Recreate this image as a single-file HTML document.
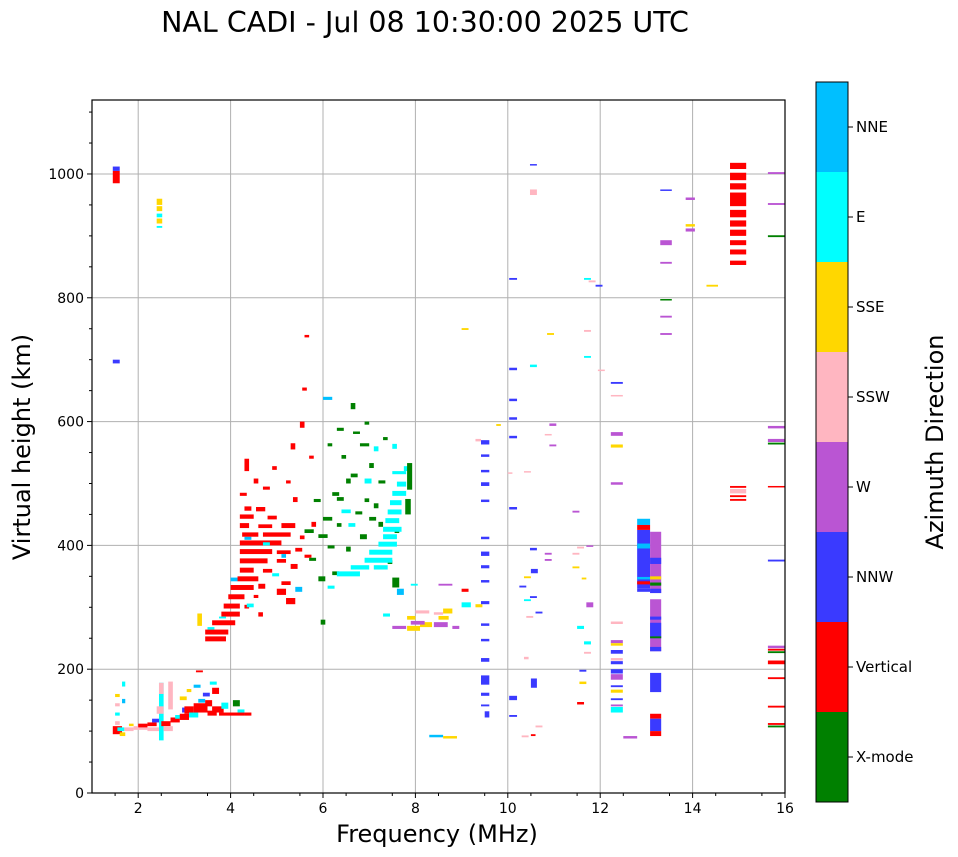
<!DOCTYPE html>
<html><head><meta charset="utf-8"><style>
html,body{margin:0;padding:0;background:#fff}
svg{display:block;font-family:"DejaVu Sans","Liberation Sans",sans-serif}
</style></head><body>
<svg id="chart" width="958" height="857" viewBox="0 0 958 857">
<text x="425" y="32" font-size="28.5" text-anchor="middle">NAL CADI - Jul 08 10:30:00 2025 UTC</text>
<g id="grid"></g>
<g id="marks"></g>
<rect x="92" y="100" width="693" height="693" fill="none" stroke="#000" stroke-width="1.2"/>
<g id="axes"></g>
<text x="437" y="842" font-size="24" text-anchor="middle">Frequency (MHz)</text>
<text transform="translate(30,447) rotate(-90)" font-size="24" text-anchor="middle">Virtual height (km)</text>
<g id="cbar"></g>
<text transform="translate(943,442) rotate(-90)" font-size="24" text-anchor="middle">Azimuth Direction</text>
</svg>
<script>
const categories = ["X-mode","Vertical","NNW","W","SSW","SSE","E","NNE"];
const catColors = ["#008000","#ff0000","#3a3aff","#ba55d3","#ffb6c1","#ffd700","#00ffff","#00bfff"];
const xTicks = [2,4,6,8,10,12,14,16];
const yTicks = [0,200,400,600,800,1000];
// echoes: [freqStart, freqEnd, heightLow, heightHigh, categoryIndex]
const echoes = [
[1.45,1.6,985,1005,1],[1.45,1.6,1005,1012,2],[1.45,1.6,694,700,2],
[2.4,2.52,950,960,5],[2.4,2.52,940,948,5],[2.4,2.52,930,936,6],[2.4,2.52,920,928,5],[2.4,2.52,913,916,6],
// low cluster
[1.45,1.65,95,108,1],[1.55,1.7,100,106,6],[1.6,1.72,92,98,5],[1.5,1.6,110,116,4],[1.5,1.6,125,130,6],[1.5,1.6,140,145,4],[1.5,1.6,155,160,5],[1.65,1.72,172,180,6],[1.65,1.72,145,152,7],
[1.7,1.9,100,106,4],[1.8,1.9,108,112,5],[1.9,2.2,102,108,4],[2.0,2.2,106,112,1],[2.2,2.45,100,106,4],[2.2,2.4,108,114,1],[2.3,2.45,114,120,2],
[2.45,2.55,85,178,6],[2.4,2.55,128,140,4],[2.45,2.55,160,178,4],[2.5,2.7,108,116,1],[2.55,2.75,100,108,4],[2.65,2.75,135,180,4],
[2.7,2.9,114,122,1],[2.8,2.95,120,126,6],[2.9,3.1,118,128,1],[2.95,3.1,130,138,2],[3.0,3.2,128,140,1],[3.1,3.3,122,130,6],
[3.2,3.5,130,145,1],[3.3,3.45,146,152,7],[3.45,3.6,140,150,1],[3.5,3.7,125,133,1],[3.6,3.85,130,140,1],[3.75,4.3,125,130,1],
[3.8,3.95,136,146,6],[3.6,3.75,160,170,1],[3.4,3.55,156,162,2],[3.55,3.7,175,180,6],[3.25,3.4,195,198,1],[3.2,3.35,170,175,7],
[4.05,4.2,140,150,0],[4.15,4.3,130,135,6],[4.3,4.45,125,130,1],[2.9,3.05,150,156,5],[3.05,3.15,163,168,5],
// main red band rows
[3.45,3.9,245,253,1],[3.45,3.95,256,264,1],[3.5,3.65,264,268,6],[3.6,4.1,271,279,1],[3.28,3.38,270,290,5],[3.8,4.2,285,293,1],[3.75,3.9,282,285,6],
[3.85,4.2,298,306,1],[4.3,4.4,298,304,1],[3.95,4.3,313,321,1],[4.5,4.6,315,320,1],[4.0,4.5,328,336,1],[4.6,4.75,330,338,1],
[4.0,4.15,342,348,7],[4.15,4.6,342,350,1],[4.2,4.5,356,364,1],[4.7,4.9,356,362,1],[4.2,4.8,371,379,1],[5.0,5.2,372,378,1],
[4.2,4.9,386,394,1],[5.0,5.3,386,392,1],[4.2,5.1,400,408,1],[4.3,4.45,409,414,7],[4.25,4.6,414,421,1],[4.7,5.3,414,421,1],
[4.2,4.4,428,436,1],[4.6,4.9,428,434,1],[5.1,5.4,428,436,1],[4.2,4.5,443,450,1],[4.8,5.0,442,448,1],[4.3,4.45,456,463,1],[4.55,4.75,455,462,1],
[5.0,5.2,320,330,1],[5.2,5.4,305,315,1],[5.1,5.3,336,342,1],[5.4,5.55,325,333,7],[5.3,5.45,362,370,1],[4.6,4.7,285,292,1],[4.35,4.5,300,306,6],
[5.1,5.2,380,386,7],[4.7,4.85,400,405,6],[4.9,5.05,350,355,6],[5.4,5.55,390,396,1],[5.5,5.6,410,416,1],[5.6,5.75,380,385,1],
[4.3,4.4,520,540,1],[4.5,4.6,500,508,1],[4.9,5.0,522,528,1],[5.3,5.4,555,565,1],[5.5,5.6,590,600,1],[5.6,5.7,736,740,1],[5.55,5.65,650,655,1],
[5.7,5.8,540,545,1],[5.35,5.45,470,478,1],[5.75,5.85,430,438,1],[4.2,4.35,480,485,1],[4.7,4.85,490,495,1],[5.2,5.3,500,505,1],
// green / cyan
[5.6,5.8,420,426,0],[5.9,6.1,412,418,0],[6.0,6.2,440,446,0],[6.3,6.45,472,478,0],[6.5,6.6,500,508,0],[6.3,6.45,585,590,0],[6.6,6.7,620,630,0],
[6.0,6.2,635,640,7],[6.65,6.8,580,584,0],[6.9,7.0,595,600,0],[7.0,7.1,525,533,0],[6.8,7.0,560,565,0],[7.1,7.2,460,468,0],[6.2,6.35,352,358,0],
[5.9,6.05,342,350,0],[6.5,6.6,390,398,0],[6.8,6.95,410,418,0],[7.2,7.3,430,438,0],[7.55,7.65,420,428,0],[7.5,7.65,332,348,0],[5.95,6.05,272,280,0],
[5.7,5.85,375,380,0],[6.1,6.25,395,400,0],[6.3,6.4,430,436,0],[6.7,6.85,450,455,0],[6.9,7.0,470,476,0],[7.2,7.35,500,505,0],[6.4,6.5,540,546,0],
[6.6,6.75,510,516,0],[6.1,6.2,560,565,0],[7.3,7.4,570,575,0],[7.0,7.15,440,446,0],[6.2,6.35,480,486,0],[5.8,5.95,470,475,0],[7.4,7.5,370,376,0],
[6.9,7.05,500,508,6],[7.1,7.2,552,560,6],[7.5,7.6,556,564,6],[7.75,7.9,520,528,6],[6.4,6.6,452,458,6],[6.1,6.25,330,335,6],[6.55,6.7,430,436,6],
[6.3,6.8,350,358,6],[6.6,7.0,361,368,6],[7.1,7.4,361,368,6],[6.9,7.5,372,380,6],[7.0,7.5,385,393,6],[7.2,7.6,398,406,6],[7.3,7.6,410,418,6],
[7.3,7.7,422,430,6],[7.35,7.65,436,444,6],[7.4,7.7,450,458,6],[7.45,7.7,465,473,6],[7.5,7.8,480,488,6],[7.6,7.8,495,503,6],[7.5,7.8,515,520,6],
[7.82,7.93,490,533,0],[7.78,7.9,450,475,0],[7.6,7.75,320,330,7],[7.9,8.05,335,338,6],[7.3,7.45,285,290,6],
// 8-9 MHz cluster
[7.82,8.1,262,270,5],[8.1,8.36,268,276,5],[7.9,8.2,272,278,3],[7.82,8.0,280,286,5],[7.5,7.8,265,270,3],[8.4,8.7,268,276,3],[8.5,8.72,280,286,5],
[8.4,8.6,288,292,4],[8.6,8.8,290,298,5],[8.5,8.8,335,338,3],[9.0,9.15,325,330,1],[9.0,9.2,300,308,6],[9.3,9.45,300,305,5],[8.0,8.3,290,295,4],
[8.8,8.95,265,270,3],[8.3,8.6,90,94,7],[8.6,8.9,88,92,5],
// sparse right
[9.42,9.6,563,570,2],[9.3,9.42,568,572,4],[9.42,9.6,543,547,2],[9.42,9.6,518,522,2],[9.42,9.6,496,502,2],[9.42,9.6,470,474,2],[9.42,9.6,410,414,2],
[9.42,9.6,383,390,2],[9.42,9.6,363,368,2],[9.42,9.6,340,344,2],[9.42,9.6,305,310,2],[9.42,9.6,270,274,2],[9.42,9.6,245,249,2],[9.42,9.6,212,218,2],
[9.42,9.6,175,190,2],[9.42,9.6,157,162,2],[9.42,9.6,140,143,2],[9.5,9.6,122,132,2],[9.0,9.15,748,751,5],[9.75,9.85,593,596,5],
[10.03,10.2,829,832,2],[10.03,10.2,683,687,2],[10.03,10.2,633,637,2],[10.03,10.2,603,607,2],[10.03,10.2,573,577,2],[10.03,10.2,458,462,2],
[10.03,10.2,150,157,2],[10.03,10.2,123,126,2],[10.0,10.1,516,518,4],
[10.48,10.63,1014,1016,2],[10.48,10.63,966,975,4],[10.48,10.63,688,692,6],[10.35,10.5,518,520,4],[10.48,10.63,392,396,2],[10.5,10.65,355,362,2],
[10.35,10.5,347,350,5],[10.48,10.63,315,318,2],[10.5,10.63,170,185,2],[10.3,10.45,90,93,4],[10.5,10.6,92,95,1],[10.6,10.75,106,109,4],
[10.25,10.4,332,335,2],[10.35,10.5,310,313,6],[10.4,10.55,283,286,4],[10.35,10.45,216,220,4],[10.6,10.75,290,293,2],
[10.85,11.0,740,743,5],[10.9,11.05,593,597,3],[10.8,10.95,578,580,4],[10.9,11.05,560,563,3],[10.8,10.95,385,388,3],[10.8,10.95,375,378,3],
[11.4,11.55,453,456,3],[11.5,11.65,395,398,4],[11.7,11.85,398,400,3],[11.4,11.55,385,388,4],[11.4,11.55,363,366,5],[11.6,11.7,345,348,5],
[11.7,11.85,300,308,3],[11.5,11.65,265,270,6],[11.65,11.8,240,245,6],[11.65,11.8,225,228,4],[11.55,11.7,196,199,2],[11.55,11.7,176,180,5],[11.5,11.65,143,147,1],
[11.65,11.8,829,832,6],[11.75,11.9,825,828,4],[11.9,12.05,818,821,2],[11.65,11.8,745,748,4],[11.65,11.8,703,706,6],[11.95,12.1,682,684,4],
[12.23,12.49,661,664,2],[12.23,12.49,641,643,4],[12.23,12.49,577,583,3],[12.23,12.49,558,563,5],[12.23,12.49,498,502,3],[12.23,12.49,273,277,4],
[12.23,12.49,242,247,3],[12.23,12.49,238,242,5],[12.23,12.49,225,231,2],[12.23,12.49,214,218,4],[12.23,12.49,208,213,2],[12.23,12.49,193,200,2],
[12.23,12.49,183,192,3],[12.23,12.49,171,174,2],[12.23,12.49,162,167,5],[12.23,12.49,150,153,2],[12.23,12.49,140,143,3],[12.23,12.49,130,139,6],
[12.5,12.8,88,92,3],
[12.8,13.08,330,425,2],[12.8,13.08,433,443,7],[12.8,13.08,425,433,1],[12.8,13.08,395,403,7],[12.8,13.08,345,349,7],[12.8,13.08,337,342,1],[12.8,13.08,325,330,2],
[13.08,13.32,323,422,3],[13.08,13.32,370,380,2],[13.08,13.32,345,350,5],[13.08,13.32,335,340,0],[13.08,13.32,323,330,2],
[13.08,13.32,229,313,3],[13.08,13.32,280,285,2],[13.08,13.32,250,275,2],[13.08,13.32,250,253,0],[13.08,13.32,229,236,2],
[13.08,13.32,163,194,2],[13.08,13.32,120,128,1],[13.08,13.32,100,120,2],[13.08,13.32,92,100,1],
[13.3,13.55,885,893,3],[13.3,13.55,973,975,2],[13.3,13.55,855,858,3],[13.3,13.55,797,798,0],[13.3,13.55,768,771,3],[13.3,13.55,740,743,3],
[13.85,14.05,958,962,3],[13.85,14.05,915,919,5],[13.85,14.05,907,912,3],[14.3,14.55,818,821,5],
[14.81,15.16,1008,1018,1],[14.81,15.16,990,1002,1],[14.81,15.16,975,985,1],[14.81,15.16,948,970,1],[14.81,15.16,930,942,1],[14.81,15.16,915,925,1],
[14.81,15.16,900,910,1],[14.81,15.16,885,893,1],[14.81,15.16,870,878,1],[14.81,15.16,853,860,1],
[14.81,15.16,493,496,1],[14.81,15.16,484,491,4],[14.81,15.16,478,481,1],[14.81,15.16,472,475,1],
[15.63,16.0,1000,1003,3],[15.63,16.0,950,953,3],[15.63,16.0,898,901,0],[15.63,16.0,589,593,3],[15.63,16.0,567,572,3],[15.63,16.0,563,566,0],
[15.63,16.0,494,496,1],[15.63,16.0,374,377,2],[15.63,16.0,234,238,3],[15.63,16.0,230,233,1],[15.63,16.0,226,229,0],[15.63,16.0,208,214,1],
[15.63,16.0,184,187,1],[15.63,16.0,138,141,1],[15.63,16.0,110,113,1],[15.63,16.0,106,109,0]
];

const NS="http://www.w3.org/2000/svg";
const X0=92,X1=785,Y0=793,Y1=100,FMIN=1,FMAX=16,HMIN=0,HMAX=1119.5;
const xs=f=>X0+(f-FMIN)/(FMAX-FMIN)*(X1-X0);
const ys=h=>Y0-(h-HMIN)/(HMAX-HMIN)*(Y0-Y1);
function mk(tag,attrs,parent){const e=document.createElementNS(NS,tag);for(const k in attrs)e.setAttribute(k,attrs[k]);parent.appendChild(e);return e;}
const grid=document.getElementById('grid'),axes=document.getElementById('axes'),marks=document.getElementById('marks'),cbar=document.getElementById('cbar');
xTicks.forEach(t=>{
  const g=mk('line',{x1:xs(t),x2:xs(t),y1:Y1,y2:Y0,stroke:'#b0b0b0','stroke-width':1},grid);
  
  
  mk('line',{x1:xs(t),x2:xs(t),y1:Y0,y2:Y0+5,stroke:'#000'},axes);
  const tx=mk('text',{x:xs(t),y:Y0+20,'font-size':14,'text-anchor':'middle'},axes);tx.textContent=t;
  
  
});
for(let f=1.5;f<16;f+=1){mk('line',{x1:xs(f),x2:xs(f),y1:Y0,y2:Y0+3,stroke:'#000'},axes);}
yTicks.forEach(t=>{
  if(t>0){const g=mk('line',{x1:X0,x2:X1,y1:ys(t),y2:ys(t),stroke:'#b0b0b0','stroke-width':1},grid);
  
  }
  mk('line',{x1:X0-5,x2:X0,y1:ys(t),y2:ys(t),stroke:'#000'},axes);
  const tx=mk('text',{x:X0-8,y:ys(t)+5,'font-size':14,'text-anchor':'end'},axes);tx.textContent=t;
  
  
});
for(let h=50;h<1119;h+=50){if(h%200)mk('line',{x1:X0-3,x2:X0,y1:ys(h),y2:ys(h),stroke:'#000'},axes);}
echoes.forEach(e=>{
  const y1=ys(e[3]),y2=ys(e[2]);
  const r=mk('rect',{x:xs(e[0]),y:y1,width:Math.max(1,xs(e[1])-xs(e[0])),height:Math.max(1.5,y2-y1),fill:catColors[e[4]]},marks);
  
  
});
const CX=816,CW=32,CT=82,CB=802,seg=(CB-CT)/categories.length;
categories.forEach((c,i)=>{
  const y=CB-(i+1)*seg;
  const r=mk('rect',{x:CX,y:y,width:CW,height:seg,fill:catColors[i]},cbar);
  
  
  mk('line',{x1:CX+CW,x2:CX+CW+5,y1:y+seg/2,y2:y+seg/2,stroke:'#000'},cbar);
  const t=mk('text',{x:CX+CW+8,y:y+seg/2+5,'font-size':15},cbar);t.textContent=c;
  
  
});
mk('rect',{x:CX,y:CT,width:CW,height:CB-CT,fill:'none',stroke:'#000','stroke-width':1},cbar);
</script>
</body></html>
